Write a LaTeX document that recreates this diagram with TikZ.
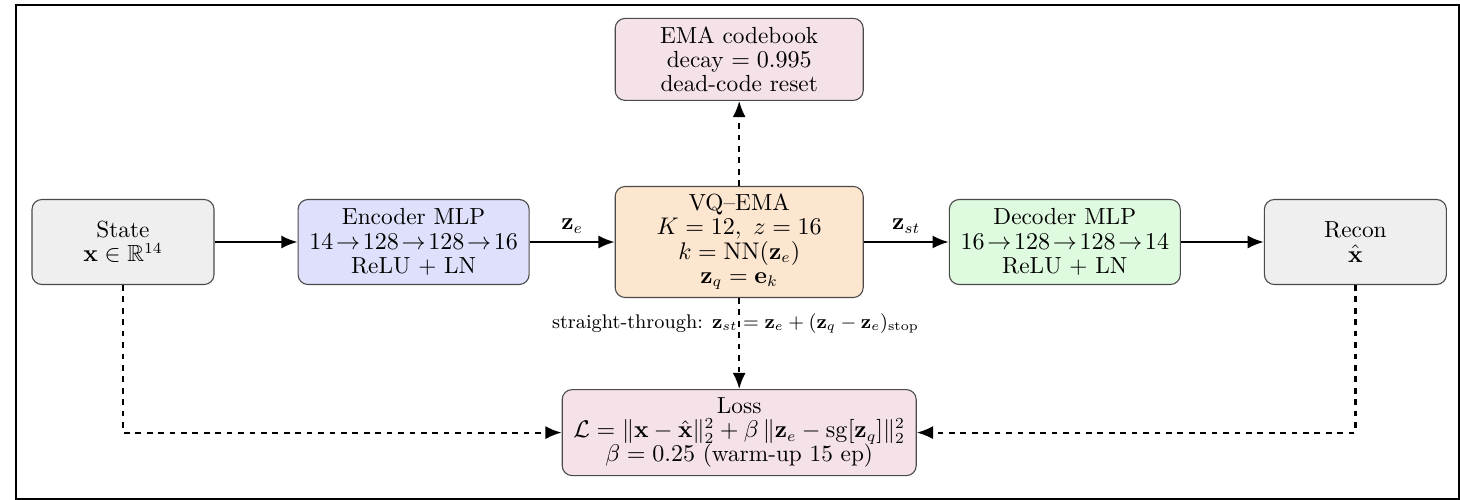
\documentclass[tikz,border=0pt]{standalone}
\usepackage{amsmath,amssymb}
\usepackage{xcolor}
\usepackage{tikz}
\usetikzlibrary{arrows.meta,positioning}
\definecolor{vqgray}{HTML}{EFEFEF}
\definecolor{vqblue}{HTML}{DFE0FB}
\definecolor{vqpeach}{HTML}{FDE6D0}
\definecolor{vqgreen}{HTML}{DEFADF}
\definecolor{vqpink}{HTML}{F5E2E9}
\definecolor{vqedge}{HTML}{4A4A4A}

\begin{document}
\begin{tikzpicture}[
    node distance=1.36cm,
    font=\fontsize{10.6}{11}\selectfont,
    block/.style={draw=vqedge, line width=0.5pt, rounded corners=4.5pt, align=center,
                  minimum height=1.36cm, inner sep=2pt},
    flow/.style={-{Latex[length=2.6mm, width=2.1mm]}, line width=1pt},
    dflow/.style={-{Latex[length=2.6mm, width=2.1mm]}, line width=1pt, dash pattern=on 2.6pt off 2.6pt}
  ]
    \useasboundingbox (0,0) rectangle (23.36,-8);
    \draw[line width=1pt] (0.256,-0.08) rectangle (23.344,-7.984);

    \node[block, fill=vqgray, minimum width=2.912cm] (state) at (1.968,-3.872) {State\\$\mathbf{x}\in\mathbb{R}^{14}$};
    \node[block, fill=vqblue, minimum width=3.696cm, right=1.328cm of state] (enc) {Encoder MLP\\$14\!\to\!128\!\to\!128\!\to\!16$\\ReLU + LN};
    \node[block, fill=vqpeach, minimum width=3.968cm, minimum height=1.776cm, right=of enc] (vq) {VQ--EMA\\$K=12,\ z=16$\\$k=\mathrm{NN}(\mathbf{z}_e)$\\$\mathbf{z}_q=\mathbf{e}_k$};
    \node[block, fill=vqgreen, minimum width=3.696cm, right=of vq] (dec) {Decoder MLP\\$16\!\to\!128\!\to\!128\!\to\!14$\\ReLU + LN};
    \node[block, fill=vqgray, minimum width=2.912cm, right=1.328cm of dec] (recon) {Recon\\$\hat{\mathbf{x}}$};
    \node[block, fill=vqpink, minimum width=3.968cm, minimum height=1.312cm, above=of vq] (ema) {EMA codebook\\decay $=0.995$\\dead-code reset};
    \node[block, fill=vqpink, minimum width=5.664cm, minimum height=1.376cm, below=1.456cm of vq] (loss) {Loss\\$\mathcal{L}=\lVert\mathbf{x}-\hat{\mathbf{x}}\rVert_2^2+\beta\,\lVert\mathbf{z}_e-\mathrm{sg}[\mathbf{z}_q]\rVert_2^2$\\$\beta=0.25$ (warm-up 15 ep)};

    \draw[flow] (state) -- (enc);
    \draw[flow] (enc) -- node[above] {$\mathbf{z}_e$} (vq);
    \draw[flow] (vq) -- node[above] {$\mathbf{z}_{st}$} (dec);
    \draw[flow] (dec) -- (recon);
    \draw[dflow] (vq) -- (ema);
    \draw[dflow] (vq) -- node[pos=0.28, xshift=-0.06cm, font=\fontsize{9}{10}\selectfont] {straight-through: $\mathbf{z}_{st}=\mathbf{z}_e+(\mathbf{z}_q-\mathbf{z}_e)_{\mathrm{stop}}$} (loss);
    \draw[dflow] (state.south) |- (loss.west);
    \draw[dflow] (recon.south) |- (loss.east);
  \end{tikzpicture}
\end{document}
